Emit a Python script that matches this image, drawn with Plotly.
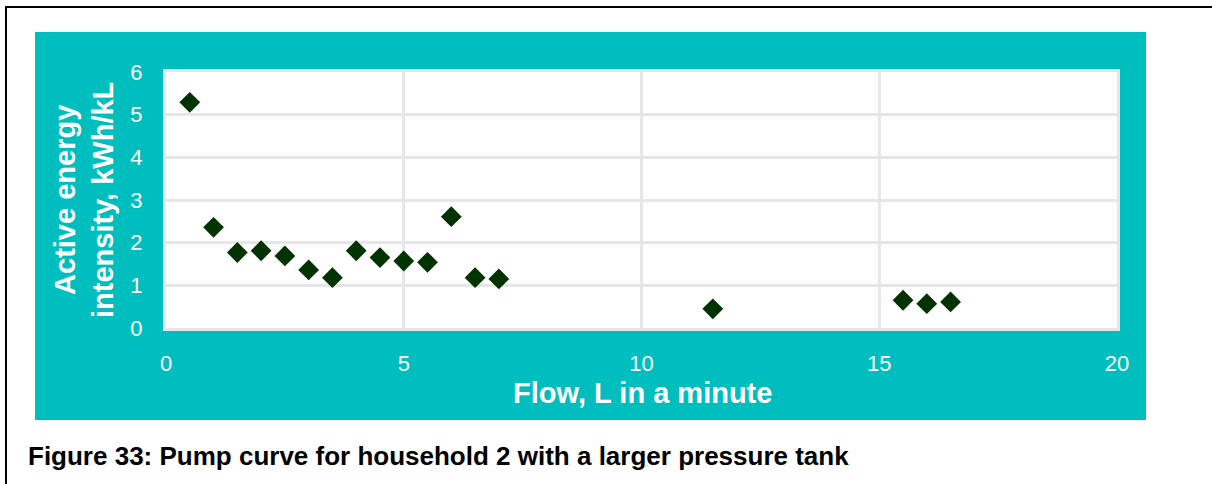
import plotly.graph_objects as go

# Flow (L/min) vs active energy intensity (kWh/kL)
flow = [0.5, 1, 1.5, 2, 2.5, 3, 3.5, 4, 4.5, 5, 5.5, 6, 6.5, 7, 11.5, 15.5, 16, 16.5]
intensity = [5.29, 2.36, 1.77, 1.81, 1.69, 1.36, 1.18, 1.81, 1.65, 1.57, 1.54,
             2.61, 1.18, 1.15, 0.45, 0.65, 0.57, 0.61]

x_ticks = [0, 5, 10, 15, 20]
y_ticks = [0, 1, 2, 3, 4, 5, 6]

x_title = "Flow, L in a minute"
y_title = "Active energy<br>intensity, kWh/kL"
caption = "Figure 33: Pump curve for household 2 with a larger pressure tank"

W, H = 1212, 484
L, R, T, B = 166, 95, 72, 156
PW, PH = W - L - R, H - T - B

TEAL = "#00BEBE"
GRID = "#E6E6E6"
FONT = "Liberation Sans, Arial, sans-serif"


def px(x):
    return (x - L) / PW


def py(y):
    return 1 - (y - T) / PH


fig = go.Figure(
    go.Scatter(
        x=flow,
        y=intensity,
        mode="markers",
        marker=dict(symbol="diamond", size=16, color="#003300"),
        hoverinfo="x+y",
    )
)

shapes = [
    # teal chart background
    dict(type="rect", xref="paper", yref="paper",
         x0=px(35), x1=px(1146), y0=py(420), y1=py(32),
         fillcolor=TEAL, line=dict(width=0), layer="below"),
    # white plotting area on top of the teal block
    dict(type="rect", xref="paper", yref="paper",
         x0=0, x1=1, y0=0, y1=1,
         fillcolor="white", line=dict(width=0), layer="below"),
    # frame lines around the figure
    dict(type="line", xref="paper", yref="paper",
         x0=px(5), x1=px(1212), y0=py(7), y1=py(7),
         line=dict(color="black", width=2)),
    dict(type="line", xref="paper", yref="paper",
         x0=px(6), x1=px(6), y0=py(6), y1=py(484),
         line=dict(color="black", width=2)),
]

annotations = [
    dict(text=f"<b>{x_title}</b>", xref="paper", yref="paper",
         x=px(642), y=py(393), showarrow=False,
         font=dict(family=FONT, size=29, color="white"),
         xanchor="center", yanchor="middle"),
    dict(text=f"<b>{y_title}</b>", xref="paper", yref="paper",
         x=px(84), y=py(200), showarrow=False, textangle=-90,
         font=dict(family=FONT, size=29, color="white"),
         xanchor="center", yanchor="middle"),
    dict(text=f"<b>{caption}</b>", xref="paper", yref="paper",
         x=px(26), y=py(456), showarrow=False,
         font=dict(family=FONT, size=26, color="black"),
         xanchor="left", yanchor="middle"),
]

axis_common = dict(
    showgrid=True, gridcolor=GRID, gridwidth=3,
    showline=True, linecolor=GRID, linewidth=3, mirror=True,
    zeroline=False, ticks="",
    tickfont=dict(family=FONT, size=22, color="white"),
)

fig.update_layout(
    width=W, height=H,
    margin=dict(l=L, r=R, t=T, b=B, pad=0),
    paper_bgcolor="white",
    plot_bgcolor="white",
    showlegend=False,
    shapes=shapes,
    annotations=annotations,
    xaxis=dict(range=[0, 20], tickvals=x_ticks, ticklabelstandoff=14, **axis_common),
    yaxis=dict(range=[0, 6], tickvals=y_ticks, ticklabelstandoff=16, **axis_common),
)

fig.write_html("out.html")
